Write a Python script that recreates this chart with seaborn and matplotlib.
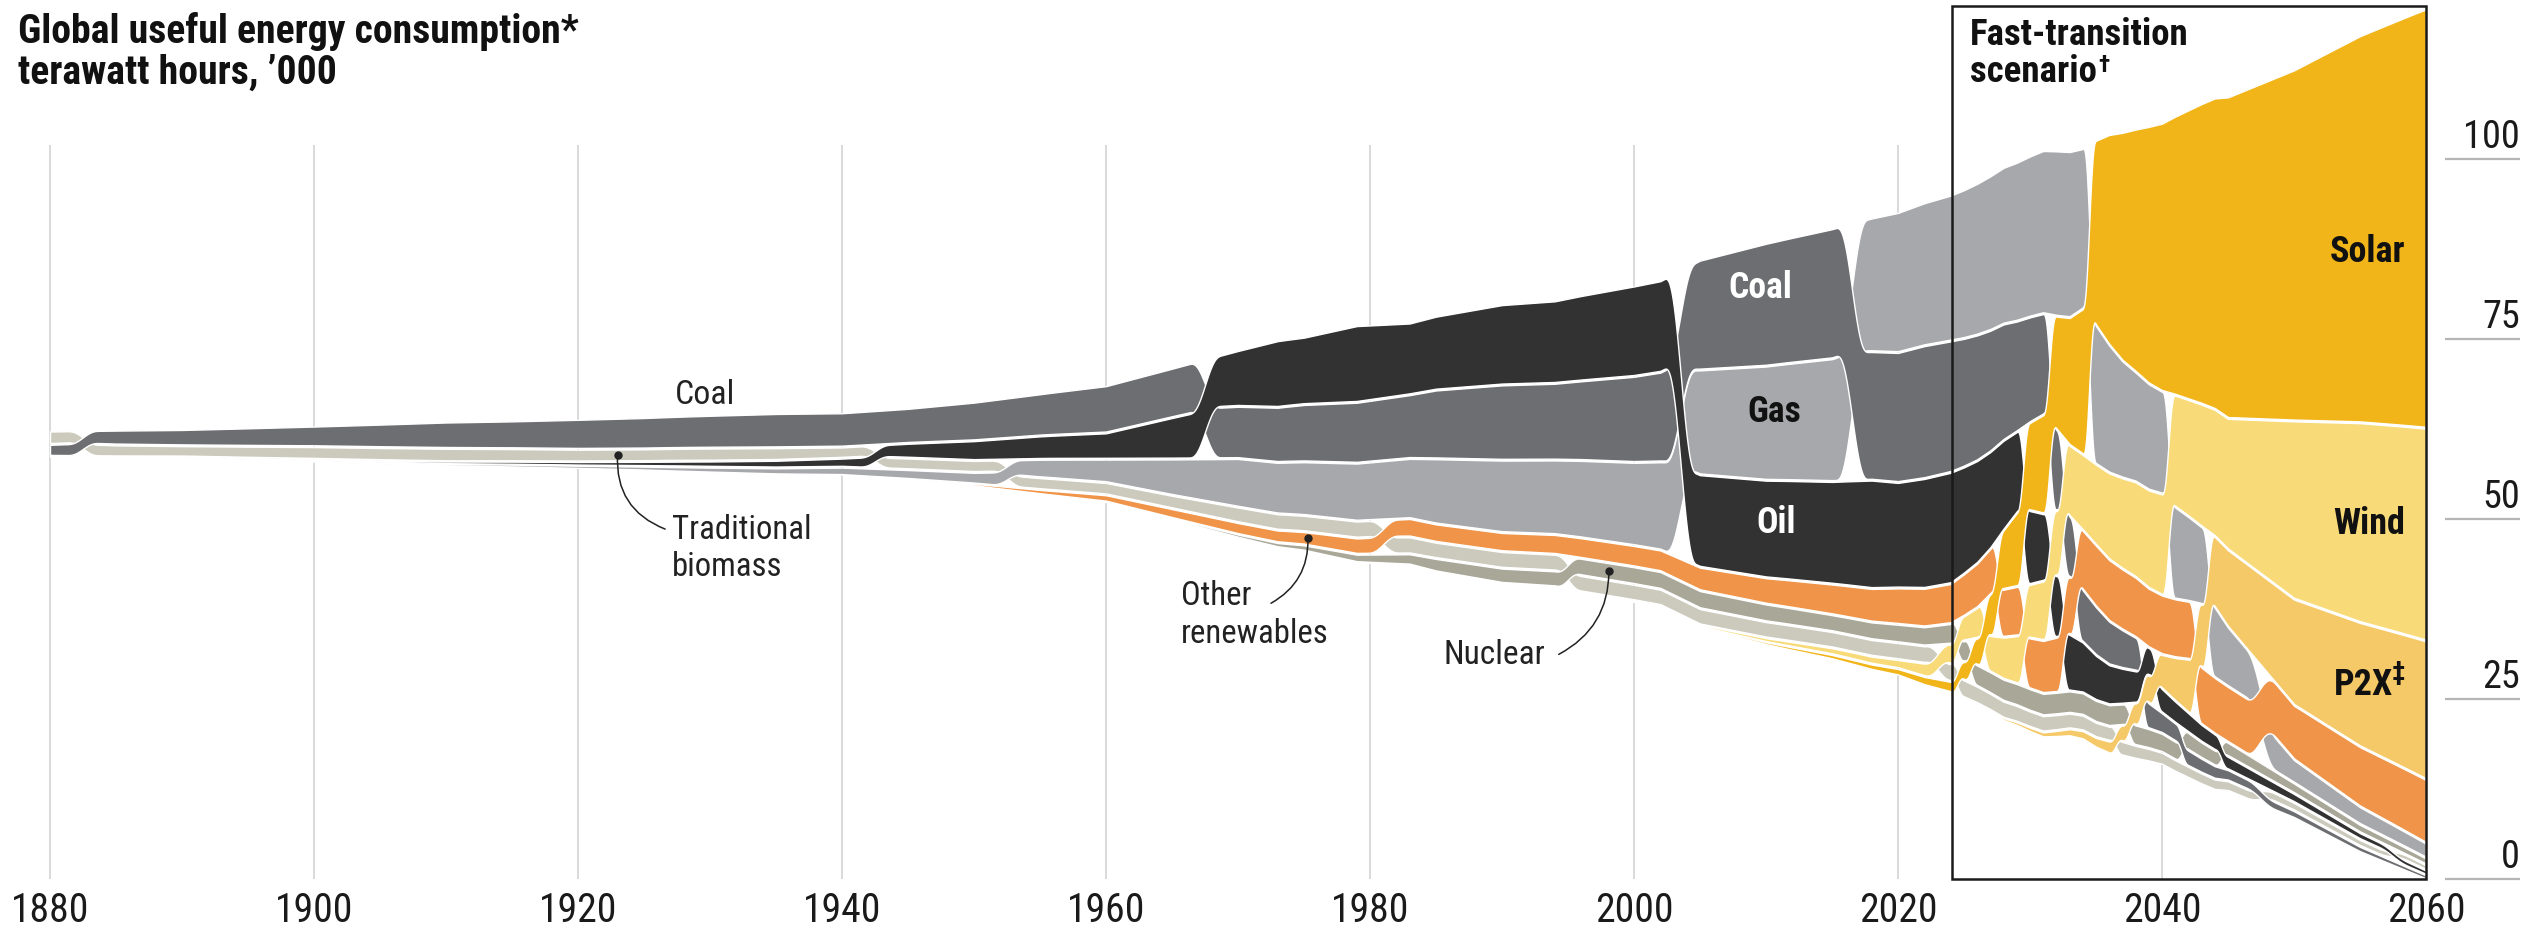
import numpy as np
import matplotlib
matplotlib.use("Agg")
import matplotlib.pyplot as plt
import seaborn as sns
from matplotlib import font_manager
from matplotlib.patches import Rectangle

# ---------------- data (thousand TWh) ----------------
years = [1880, 1885, 1890, 1895, 1900, 1905, 1910, 1915, 1920, 1925, 1930, 1935, 1940, 1945, 1950, 1955,
         1960, 1965, 1970, 1973, 1975, 1979, 1983, 1985, 1990, 1994, 1996, 2000, 2002, 2005, 2010, 2015,
         2018, 2020, 2022, 2024, 2025, 2026, 2027, 2028, 2029, 2030, 2031, 2032, 2033, 2034, 2035, 2036,
         2037, 2038, 2039, 2040, 2041, 2042, 2043, 2044, 2045, 2050, 2055, 2060]

coal = [1.4, 1.8, 2.0, 2.3, 2.6, 3.0, 3.4, 3.6, 3.9, 4.1, 4.3, 4.5, 4.5, 4.6, 5.1, 5.6,
        6.3, 6.6, 7.0, 7.4, 7.7, 8.2, 8.6, 9.3, 10.2, 10.4, 10.8, 11.7, 12.2, 15.0, 16.8, 17.8,
        17.6, 17.8, 18.2, 18.0, 17.6, 17.2, 16.6, 15.9, 15.1, 14.4, 13.8, 11.0, 8.2, 7.0, 6.5, 5.8,
        5.1, 4.4, 3.3, 2.6, 2.3, 2.0, 1.8, 1.6, 1.3, 0.8, 0.6, 0.4]
oil = [0.05, 0.07, 0.1, 0.12, 0.15, 0.18, 0.22, 0.28, 0.35, 0.45, 0.6, 0.8, 1.0, 1.8, 2.5, 3.0,
       3.4, 5.5, 7.5, 9.0, 9.1, 10.4, 9.7, 10.0, 10.9, 11.2, 11.6, 12.3, 12.45, 12.6, 13.3, 14.0,
       14.8, 14.4, 15.0, 15.2, 14.6, 14.0, 13.2, 12.2, 11.0, 10.0, 9.1, 8.3, 7.6, 6.8, 6.0, 5.3,
       4.7, 4.2, 3.6, 3.1, 2.8, 2.5, 2.2, 2.0, 1.6, 1.0, 0.7, 0.45]
gas = [0.04, 0.05, 0.07, 0.09, 0.12, 0.15, 0.2, 0.25, 0.3, 0.4, 0.55, 0.7, 0.9, 1.1, 1.35, 2.3,
       3.0, 4.8, 6.5, 6.9, 7.2, 7.8, 8.1, 8.8, 9.8, 10.1, 10.5, 11.3, 12.0, 14.3, 15.6, 16.8,
       18.3, 19.2, 19.6, 20.0, 20.4, 20.8, 21.2, 21.5, 21.8, 22.1, 22.4, 22.7, 22.8, 22.0, 19.0, 17.5,
       16.0, 15.0, 14.5, 14.0, 12.5, 11.5, 10.5, 9.5, 8.0, 3.0, 2.2, 1.8]
trad_biomass = [1.6, 1.4, 1.3, 1.4, 1.5, 1.55, 1.6, 1.55, 1.5, 1.5, 1.55, 1.5, 1.3, 1.35, 1.4, 1.4,
                1.45, 1.6, 1.9, 2.0, 2.0, 2.1, 2.1, 2.0, 2.05, 2.05, 2.0, 2.0, 2.0, 2.0, 2.0, 2.0,
                2.05, 2.1, 2.15, 2.2, 2.2, 2.15, 2.1, 2.1, 2.05, 2.0, 2.0, 1.95, 1.9, 1.9, 1.85, 1.8,
                1.75, 1.65, 1.6, 1.5, 1.45, 1.4, 1.35, 1.3, 1.2, 0.9, 0.7, 0.5]
nuclear = [0, 0, 0, 0, 0, 0, 0, 0, 0, 0, 0, 0, 0, 0, 0, 0,
           0.05, 0.15, 0.3, 0.45, 0.6, 0.9, 1.3, 1.6, 1.85, 1.95, 2.15, 2.2, 2.2, 2.25, 2.2, 2.1,
           2.2, 2.3, 2.4, 2.6, 2.65, 2.7, 2.75, 2.8, 2.8, 2.85, 2.85, 2.85, 2.85, 2.85, 2.8, 2.75,
           2.7, 2.6, 2.5, 2.4, 2.3, 2.2, 2.0, 1.9, 1.7, 1.2, 0.9, 0.7]
other_renewables = [0, 0, 0, 0, 0, 0, 0, 0, 0, 0, 0, 0, 0, 0.05, 0.2, 0.45,
                    0.75, 1.1, 1.4, 1.5, 1.6, 2.0, 2.3, 2.3, 2.4, 2.5, 2.6, 2.7, 2.75, 3.0, 3.4, 4.0,
                    4.4, 4.8, 5.1, 5.3, 5.6, 5.9, 6.1, 6.4, 6.6, 6.8, 7.1, 7.4, 7.7, 8.0, 8.3, 8.3,
                    8.2, 8.1, 8.0, 8.0, 7.9, 7.8, 7.7, 7.6, 7.5, 7.3, 8.1, 8.6]
solar = [0, 0, 0, 0, 0, 0, 0, 0, 0, 0, 0, 0, 0, 0, 0, 0,
         0, 0, 0, 0, 0, 0.01, 0.02, 0.02, 0.03, 0.04, 0.05, 0.07, 0.09, 0.12, 0.25, 0.45,
         0.6, 0.75, 1.0, 1.3, 2.3, 3.5, 5.5, 8.0, 10.0, 12.0, 13.5, 15.5, 17.5, 20.0, 25.5, 29.0,
         31.5, 33.5, 35.5, 37.0, 38.5, 40.0, 41.5, 43.0, 44.4, 48.5, 53.5, 58.0]
wind = [0, 0, 0, 0, 0, 0, 0, 0, 0, 0, 0, 0, 0, 0, 0, 0,
        0, 0, 0, 0, 0, 0, 0, 0, 0, 0.02, 0.03, 0.08, 0.1, 0.18, 0.4, 0.7,
        0.85, 1.0, 1.6, 2.5, 3.2, 4.0, 4.8, 5.6, 6.4, 7.2, 8.0, 8.8, 9.6, 10.3, 11.0, 11.8,
        12.4, 13.0, 13.4, 13.8, 15.3, 16.0, 16.8, 17.4, 18.0, 24.5, 27.5, 29.3]
p2x = [0, 0, 0, 0, 0, 0, 0, 0, 0, 0, 0, 0, 0, 0, 0, 0,
       0, 0, 0, 0, 0, 0, 0, 0, 0, 0, 0, 0, 0, 0, 0, 0,
       0, 0, 0, 0.05, 0.08, 0.12, 0.18, 0.25, 0.35, 0.45, 0.55, 0.7, 0.85, 1.0, 1.2, 1.5,
       2.0, 2.8, 3.6, 4.5, 5.8, 7.2, 8.5, 9.6, 10.5, 14.5, 17.0, 19.0]

x_ticks = [1880, 1900, 1920, 1940, 1960, 1980, 2000, 2020, 2040, 2060]
y_ticks = [0, 25, 50, 75, 100]
scenario_start = 2024.1
scenario_end = 2060

# ---------------- style ----------------
sns.set_theme(style="white")
CATS = ["coal", "oil", "gas", "trad", "nuc", "other", "solar", "wind", "p2x"]
series = {"coal": coal, "oil": oil, "gas": gas, "trad": trad_biomass, "nuc": nuclear,
          "other": other_renewables, "solar": solar, "wind": wind, "p2x": p2x}
pal = sns.color_palette(["#6d6e71", "#323232", "#a7a8ac", "#cbcabd", "#a9a798",
                         "#ef9448", "#f2b519", "#f8db78", "#f5c967"])
COLORS = dict(zip(CATS, pal))

fm = font_manager.fontManager
names = {f.name for f in fm.ttflist}
narrow = [n for n in ["Liberation Sans Narrow", "Roboto Condensed", "Noto Sans Condensed",
                      "Open Sans Condensed"] if n in names]
if narrow:
    FAM, STR, SC = [narrow[0], "DejaVu Sans"], "normal", 1.0
elif any(f.name == "DejaVu Sans" and "condensed" in str(f.stretch) for f in fm.ttflist):
    FAM, STR, SC = ["DejaVu Sans"], "condensed", 0.88
else:
    FAM, STR, SC = ["Roboto", "DejaVu Sans"], "normal", 0.86
plt.rcParams["font.family"] = FAM


def T(**kw):
    d = dict(family=FAM, fontstretch=STR)
    d.update(kw)
    if "size" in d:
        d["size"] = d["size"] * SC
    return d


# ---------------- stacking (ranked, centred streamgraph) ----------------
yrs = np.array(years, float)
V = np.array([series[c] for c in CATS], float)
prio_list = ["p2x", "solar", "wind", "nuc", "other", "trad", "gas", "oil", "coal"]
prio = np.array([prio_list.index(c) for c in CATS])
GAP = 0.25


def gapf(v):
    return GAP * np.clip(v / 0.5, 0, 1)


def order_at(vals):
    return tuple(sorted(range(len(CATS)), key=lambda k: (vals[k], prio[k])))


def stack(vals, order, center):
    g = gapf(vals)
    span = (vals + g).sum()
    b = center - span / 2
    lo = np.zeros(len(vals))
    hi = np.zeros(len(vals))
    for k in order:
        lo[k] = b + g[k] / 2
        hi[k] = lo[k] + vals[k]
        b += vals[k] + g[k]
    return lo, hi


def smooth(s):
    s = np.clip(s, 0, 1)
    return s * s * s * (s * (s * 6 - 15) + 10)


center = (V[:, -1] + gapf(V[:, -1])).sum() / 2
orders = [order_at(V[:, i]) for i in range(len(yrs))]

xs, LO, HI = [], [], []
for i in range(len(yrs) - 1):
    t0, t1 = yrs[i], yrs[i + 1]
    n = max(int((t1 - t0) * 40), 12)
    ts = np.linspace(t0, t1, n, endpoint=False)
    same = orders[i] == orders[i + 1]
    win = min(t1 - t0, 2.5)
    mid = (t0 + t1) / 2
    for t in ts:
        vals = np.array([np.interp(t, yrs, V[k]) for k in range(len(CATS))])
        loA, hiA = stack(vals, orders[i], center)
        if same:
            lo, hi = loA, hiA
        else:
            loB, hiB = stack(vals, orders[i + 1], center)
            w = smooth((t - (mid - win / 2)) / win)
            lo = (1 - w) * loA + w * loB
            hi = (1 - w) * hiA + w * hiB
        xs.append(t)
        LO.append(lo)
        HI.append(hi)
lo, hi = stack(V[:, -1], orders[-1], center)
xs.append(yrs[-1]); LO.append(lo); HI.append(hi)
xs = np.array(xs); LO = np.array(LO); HI = np.array(HI)


def band(cat, yr):
    k = CATS.index(cat)
    return np.interp(yr, xs, LO[:, k]), np.interp(yr, xs, HI[:, k])


# ---------------- figure ----------------
W, H, DPI = 2532, 937, 200
fig = plt.figure(figsize=(W / DPI, H / DPI), dpi=DPI)
ax = fig.add_axes([0, 0, 1, 1])
PX_YR, X0 = 13.2, 50          # pixel scale of the year axis
PX_V, Y0 = 7.2, 880           # pixel scale of the value axis
ax.set_xlim(1880 - X0 / PX_YR, 1880 + (W - X0) / PX_YR)
ax.set_ylim((Y0 - H) / PX_V, Y0 / PX_V)
ax.axis("off")

# grid lines
for yr in x_ticks[:-1]:
    ax.plot([yr, yr], [0, 102], color="#d9d9d9", lw=0.7, zorder=1, solid_capstyle="butt")

# layers
zlist = ["trad", "nuc", "gas", "coal", "oil", "other", "p2x", "wind", "solar"]
for z, c in enumerate(zlist):
    k = CATS.index(c)
    m = (HI[:, k] - LO[:, k]) > 1e-4
    ax.fill_between(xs, LO[:, k], HI[:, k], where=m, facecolor=COLORS[c], edgecolor="white",
                    linewidth=0.5, zorder=2 + z * 0.01)

# scenario box
top_max = HI.max()
ax.add_patch(Rectangle((scenario_start, 0), scenario_end - scenario_start, top_max + 0.4,
                       fill=False, edgecolor="#1a1a1a", lw=0.9, zorder=5))

# x tick labels
for yr in x_ticks:
    ax.text(yr, -5.9, str(yr), ha="center", va="baseline", color="#1a1a1a", **T(size=14.3))
# y tick labels and short rules
xr0 = 1880 + (2445 - X0) / PX_YR
xr1 = 1880 + (2520 - X0) / PX_YR
for v in y_ticks:
    ax.plot([xr0, xr1], [v, v], color="#b5b5b5", lw=0.8, zorder=1, solid_capstyle="butt")
    ax.text(xr1, v + 1.6, str(v), ha="right", va="baseline", color="#1a1a1a", **T(size=13.8))

# title
fig.text(18 / W, 1 - 43 / H, "Global useful energy consumption*", ha="left", va="baseline",
         color="#111111", **T(size=14.3, weight="bold"))
fig.text(18 / W, 1 - 84 / H, "terawatt hours, \u2019000", ha="left", va="baseline",
         color="#111111", **T(size=14.3, weight="bold"))

renderer = fig.canvas.get_renderer()

# scenario label
sx = 1880 + (1970 - X0) / PX_YR
ax.text(sx, 116.0, "Fast-transition", ha="left", va="baseline", color="#111111",
        **T(size=13.3, weight="bold"))
t_sc = ax.text(sx, 110.8, "scenario", ha="left", va="baseline", color="#111111",
               **T(size=13.3, weight="bold"))
bb = t_sc.get_window_extent(renderer=renderer)
ax.annotate("\u2020", xy=(sx, 110.8), xytext=(bb.width * 72 / DPI + 0.6, 3.8), textcoords="offset points",
            ha="left", va="baseline", color="#111111", **T(size=8.5, weight="bold"))

# in-band labels
for cat, txt, col, yr, dy in [("coal", "Coal", "white", 2009.6, 2.5), ("gas", "Gas", "#111111", 2010.6, 1.5),
                              ("oil", "Oil", "white", 2010.8, 1.0)]:
    l, h = band(cat, yr)
    ax.text(yr, (l + h) / 2 + dy, txt, ha="center", va="center", color=col, zorder=6,
            **T(size=12.8, weight="bold"))

xr = 2058.4
for cat, txt, frac in [("solar", "Solar", 0.44), ("wind", "Wind", 0.5), ("p2x", "P2X", 0.52)]:
    l, h = band(cat, 2055.5)
    yv = l + frac * (h - l)
    if cat == "p2x":
        ax.text(xr, yv, "\u2021", ha="right", va="bottom", color="#111111", zorder=6,
                **T(size=9.5, weight="bold"))
        ax.annotate(txt, xy=(xr, yv), xytext=(-4.4, 0), textcoords="offset points",
                    ha="right", va="center", color="#111111", zorder=6, **T(size=13, weight="bold"))
    else:
        ax.text(xr, yv, txt, ha="right", va="center", color="#111111", zorder=6,
                **T(size=13, weight="bold"))

# annotations with leader lines
LBL = dict(color="#222222", zorder=6)
l, h = band("coal", 1929.6)
ax.text(1929.6, h + 3.0, "Coal", ha="center", va="center", **LBL, **T(size=12.2))


def leader(dot_year, cat, end, rad):
    l, h = band(cat, dot_year)
    dot = (dot_year, (l + h) / 2)
    ax.plot([dot[0]], [dot[1]], "o", color="#222222", ms=2.0, zorder=7)
    ax.annotate("", xy=dot, xytext=end,
                arrowprops=dict(arrowstyle="-", color="#222222", lw=0.55,
                                connectionstyle=f"arc3,rad={rad}", shrinkA=0, shrinkB=0),
                zorder=7)


leader(1923.0, "trad", (1926.6, 48.6), -0.36)
ax.text(1927.1, 48.6, "Traditional", ha="left", va="center", **LBL, **T(size=11.8))
ax.text(1927.1, 43.5, "biomass", ha="left", va="center", **LBL, **T(size=11.8))

leader(1975.3, "other", (1972.5, 38.3), 0.3)
ax.text(1965.7, 39.4, "Other", ha="left", va="center", **LBL, **T(size=11.8))
ax.text(1965.7, 34.1, "renewables", ha="left", va="center", **LBL, **T(size=11.8))

leader(1998.1, "nuc", (1994.3, 31.2), 0.3)
ax.text(1985.6, 31.3, "Nuclear", ha="left", va="center", **LBL, **T(size=12.0))

fig.savefig("out.png", dpi=DPI, facecolor="white")
